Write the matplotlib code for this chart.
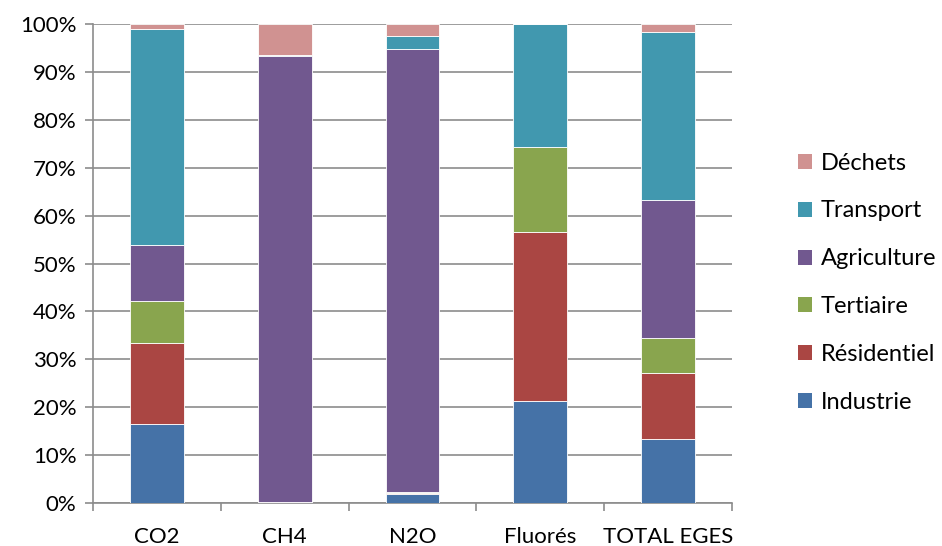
import matplotlib.pyplot as plt
import numpy as np
from matplotlib.patches import Patch
from matplotlib.ticker import FixedLocator, PercentFormatter

plt.rcParams['font.family'] = ['Lato', 'DejaVu Sans']

gaz = ['CO2', 'CH4', 'N2O', 'Fluorés', 'TOTAL EGES']
secteurs = ['Industrie', 'Résidentiel', 'Tertiaire', 'Agriculture', 'Transport', 'Déchets']
couleurs = ['#4572A7', '#AA4643', '#89A54E', '#71588F', '#4198AF', '#D09291']

# parts en % par secteur, dans l'ordre de gaz
industrie = [16.5, 0.1, 1.9, 21.3, 13.4]
residentiel = [17.0, 0.1, 0.2, 35.3, 13.8]
tertiaire = [8.7, 0.05, 0.1, 17.7, 7.3]
agriculture = [11.7, 93.15, 92.5, 0.0, 28.8]
transport = [45.0, 0.2, 2.7, 25.7, 35.0]
dechets = [1.1, 6.4, 2.6, 0.0, 1.7]
parts = [industrie, residentiel, tertiaire, agriculture, transport, dechets]

fig = plt.figure(figsize=(9.42, 5.46), dpi=100)
ax = fig.add_axes([93/942, 43/546, 639/942, 479/546])

x = np.arange(len(gaz))
bas = np.zeros(len(gaz))
for vals, nom, c in zip(parts, secteurs, couleurs):
    ax.bar(x, vals, 0.42, bottom=bas, color=c, edgecolor='white', linewidth=0.6, label=nom, zorder=3)
    bas += np.array(vals)

ax.set_xlim(-0.5, len(gaz) - 0.5)
ax.set_ylim(0, 100)
ax.set_yticks(np.arange(0, 101, 10))
ax.yaxis.set_major_formatter(PercentFormatter(decimals=0))
ax.set_xticks(x)
ax.set_xticklabels(gaz)
ax.xaxis.set_minor_locator(FixedLocator(np.arange(-0.5, len(gaz), 1)))

ax.grid(axis='y', color='#8c8c8c', linewidth=1.2, zorder=0)
for s in ['top', 'right']:
    ax.spines[s].set_visible(False)
for s in ['left', 'bottom']:
    ax.spines[s].set_color('#8c8c8c')
    ax.spines[s].set_linewidth(1.2)

ax.tick_params(axis='y', labelsize=16, length=6, color='#8c8c8c', width=1.2, pad=6)
ax.tick_params(axis='x', which='major', labelsize=16, length=0, pad=17)
ax.tick_params(axis='x', which='minor', length=6, color='#8c8c8c', width=1.2)

handles = [Patch(facecolor=c, label=n) for n, c in zip(secteurs, couleurs)][::-1]
fig.legend(handles=handles, loc='center left', bbox_to_anchor=(777/942, 0.482), frameon=False,
           fontsize=17, handlelength=0.6, handleheight=0.6, handletextpad=0.35, labelspacing=1.14)

fig.savefig('out.png', dpi=100)
